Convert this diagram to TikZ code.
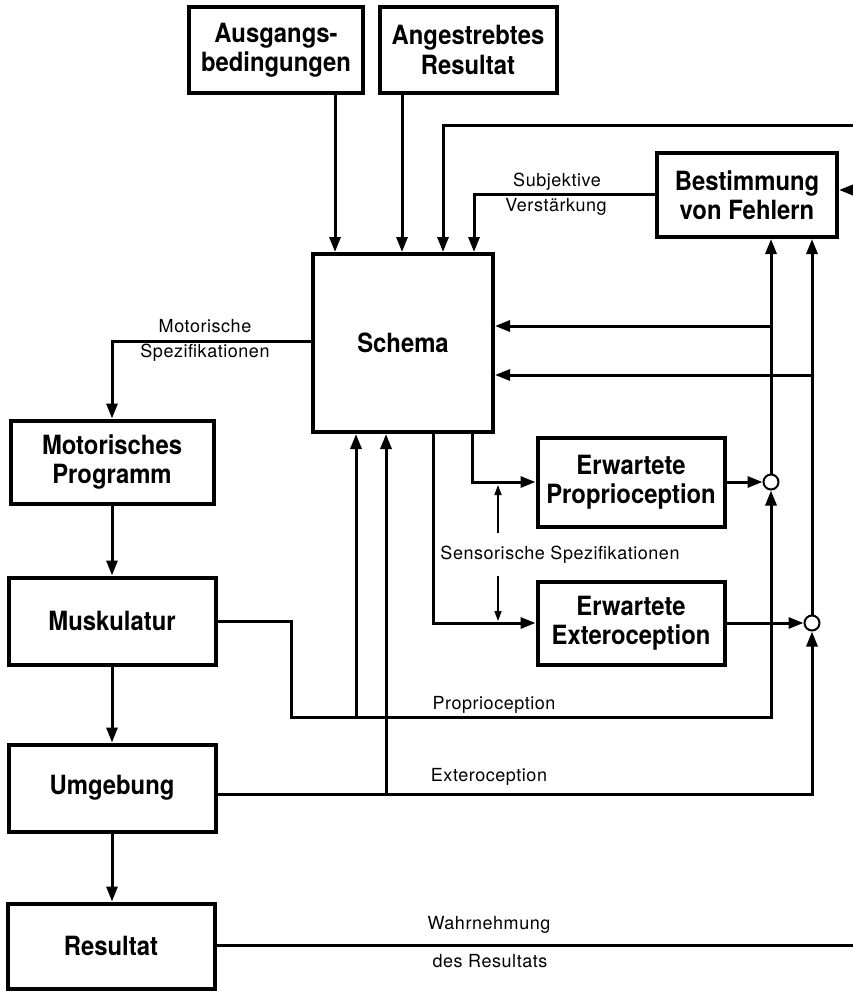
\documentclass[tikz,border=0pt]{standalone}
\usepackage{fontspec}
\setmainfont{TeX Gyre Heros}
\newfontfamily\labfont[LetterSpace=3]{TeX Gyre Heros}
\newfontfamily\boxfont[FakeStretch=0.9]{TeX Gyre Heros}
\usetikzlibrary{arrows.meta,calc}
\begin{document}
\begin{tikzpicture}[x=1pt,y=-1pt,
  box/.style={draw, line width=4pt, align=center, inner sep=0pt,
    font=\boxfont\bfseries\fontsize{26.5}{29.5}\selectfont},
  lab/.style={inner sep=0pt, text height=13pt, text depth=4pt,
    font=\labfont\fontsize{18}{22}\selectfont},
  wire/.style={line width=3pt},
  arr/.style={wire, -{Triangle[length=15pt,width=11pt]}},
  thinarr/.style={line width=1.6pt, -{Triangle[length=10pt,width=7pt]}},
  junction/.style={circle, draw, line width=2pt, fill=white,
    minimum size=15pt, inner sep=0pt},
  line join=miter]
\fill[white] (0,0) rectangle (852,991);
\useasboundingbox (0,0) rectangle (852,991);

% blocks
\node[box, minimum width=174pt, minimum height=86pt] (ausg) at (276,50) {Ausgangs-\\bedingungen};
\node[box, minimum width=177pt, minimum height=86pt] (ziel) at (468,50) {Angestrebtes\\Resultat};
\node[box, minimum width=180pt, minimum height=84pt] (fehler) at (747,195) {Bestimmung\\von Fehlern};
\node[box, minimum width=180pt, minimum height=178pt] (schema) at (403,343) {Schema};
\node[box, minimum width=187pt, minimum height=89pt] (eprop) at (631,482) {Erwartete\\Proprioception};
\node[box, minimum width=187pt, minimum height=83pt] (eext) at (631,623) {Erwartete\\Exteroception};
\node[box, minimum width=203pt, minimum height=83pt] (prog) at (112,462) {Motorisches\\Programm};
\node[box, minimum width=207pt, minimum height=87pt] (musk) at (112,621) {Muskulatur};
\node[box, minimum width=207pt, minimum height=87pt] (umg) at (112,788) {Umgebung};
\node[box, minimum width=207pt, minimum height=85pt] (res) at (111,946) {Resultat};

% comparators
\node[junction] (cprop) at (771,482) {};
\node[junction] (cext) at (812,623) {};

% routing columns, rows and off-page ends
\coordinate (xA) at (335,0);
\coordinate (xB) at (402,0);
\coordinate (xC) at (443,0);
\coordinate (xD) at (474,0);
\coordinate (xG) at (472,0);
\coordinate (xH) at (433,0);
\coordinate (xL) at (291,0);
\coordinate (xM) at (356,0);
\coordinate (xN) at (386,0);
\coordinate (ySub) at (0,194);
\coordinate (yMot) at (0,341);
\coordinate (yS1) at (0,326);
\coordinate (yS2) at (0,375);
\coordinate (yProp) at (0,717);
\coordinate (yExt) at (0,794);
\coordinate (rTop) at (853,125);
\coordinate (rErr) at (853,190);
\coordinate (rRes) at (853,945);
\coordinate (sUp) at (498,533);
\coordinate (sUpTip) at (498,485);
\coordinate (sDn) at (498,576);
\coordinate (sDnTip) at (498,621);

% inputs to the schema
\draw[arr] (ausg.south -| xA) -- (schema.north -| xA);
\draw[arr] (ziel.south -| xB) -- (schema.north -| xB);
\draw[arr] (rTop) -- (rTop -| xC) -- (schema.north -| xC);
\draw[arr] (rErr) -- (fehler.east |- rErr);
\draw[arr] (fehler.west |- ySub) -- (xD |- ySub) -- (schema.north -| xD);

% error feedback
\draw[arr] (cprop.north) -- (fehler.south -| cprop);
\draw[arr] (cprop |- yS1) -- (schema.east |- yS1);
\draw[arr] (cext.north) -- (fehler.south -| cext);
\draw[arr] (cext |- yS2) -- (schema.east |- yS2);

% motor chain
\draw[arr] (schema.west |- yMot) -- (prog.north |- yMot) -- (prog.north);
\draw[arr] (prog.south) -- (prog.south |- musk.north);
\draw[arr] (musk.south) -- (musk.south |- umg.north);
\draw[arr] (umg.south) -- (umg.south |- res.north);

% sensory specifications
\draw[arr] (schema.south -| xG) -- (xG |- eprop.west) -- (eprop.west);
\draw[arr] (schema.south -| xH) -- (xH |- eext.west) -- (eext.west);
\draw[arr] (eprop.east) -- (cprop.west);
\draw[arr] (eext.east) -- (cext.west);
\draw[thinarr] (sUp) -- (sUpTip);
\draw[thinarr] (sDn) -- (sDnTip);

% sensory feedback
\draw[arr] (musk.east) -- (xL |- musk.east) -- (xL |- yProp) -- (cprop |- yProp) -- (cprop.south);
\draw[arr] (xM |- yProp) -- (schema.south -| xM);
\draw[arr] (umg.east |- yExt) -- (cext |- yExt) -- (cext.south);
\draw[arr] (xN |- yExt) -- (schema.south -| xN);
\draw[wire] (res.east |- rRes) -- (rRes);

% labels
\node[lab] (motA) at (205,328) {Motorische};
\node[lab] (motB) at (205,353) {Spezifikationen};
\node[lab] (subA) at (557,182) {Subjektive};
\node[lab] (subB) at (556,207) {Verstärkung};
\node[lab] (sens) at (560,555) {Sensorische Spezifikationen};
\node[lab] (lprop) at (494,705) {Proprioception};
\node[lab] (lext) at (489,777) {Exteroception};
\node[lab] (wahrA) at (489,925) {Wahrnehmung};
\node[lab] (wahrB) at (490,963) {des Resultats};
\end{tikzpicture}
\end{document}
